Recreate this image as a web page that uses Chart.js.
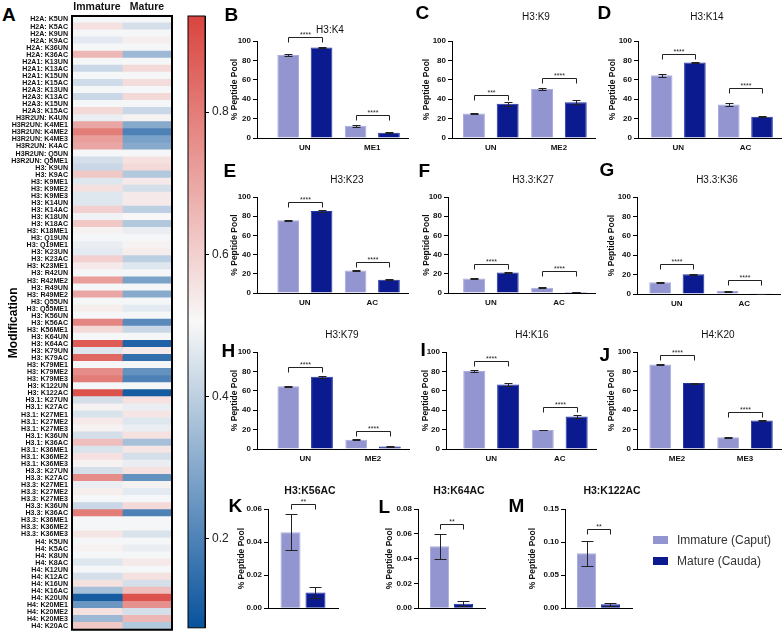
<!DOCTYPE html>
<html><head><meta charset="utf-8">
<script src="https://cdn.jsdelivr.net/npm/chart.js@4.4.0/dist/chart.umd.min.js"></script>
<style>
html,body{margin:0;padding:0;background:#fff;}
body{width:784px;height:638px;position:relative;overflow:hidden;font-family:"Liberation Sans",Arial,sans-serif;}
canvas{position:absolute;}
.letter{position:absolute;font-weight:bold;font-size:19px;line-height:1;color:#000;}
.ptitle{position:absolute;width:140px;text-align:center;font-size:10px;line-height:12px;color:#111;}
.ptitle.b{font-weight:bold;font-size:10.5px;}
.legtxt{position:absolute;font-size:12px;line-height:14px;color:#333;}
.sw{position:absolute;width:15px;height:8px;}
</style></head><body>
<script>
// ---------------- DATA ----------------
const heatRows = [
 'H2A: K5UN','H2A: K5AC','H2A: K9UN','H2A: K9AC','H2A: K36UN','H2A: K36AC',
 'H2A1: K13UN','H2A1: K13AC','H2A1: K15UN','H2A1: K15AC',
 'H2A3: K13UN','H2A3: K13AC','H2A3: K15UN','H2A3: K15AC',
 'H3R2UN: K4UN','H3R2UN: K4ME1','H3R2UN: K4ME2','H3R2UN: K4ME3','H3R2UN: K4AC','H3R2UN: Q5UN','H3R2UN: Q5ME1',
 'H3: K9UN','H3: K9AC','H3: K9ME1','H3: K9ME2','H3: K9ME3','H3: K14UN','H3: K14AC','H3: K18UN','H3: K18AC','H3: K18ME1',
 'H3: Q19UN','H3: Q19ME1','H3: K23UN','H3: K23AC','H3: K23ME1','H3: R42UN','H3: R42ME2','H3: R49UN','H3: R49ME2',
 'H3: Q55UN','H3: Q55ME1','H3: K56UN','H3: K56AC','H3: K56ME1','H3: K64UN','H3: K64AC','H3: K79UN','H3: K79AC',
 'H3: K79ME1','H3: K79ME2','H3: K79ME3','H3: K122UN','H3: K122AC',
 'H3.1: K27UN','H3.1: K27AC','H3.1: K27ME1','H3.1: K27ME2','H3.1: K27ME3','H3.1: K36UN','H3.1: K36AC','H3.1: K36ME1','H3.1: K36ME2','H3.1: K36ME3',
 'H3.3: K27UN','H3.3: K27AC','H3.3: K27ME1','H3.3: K27ME2','H3.3: K27ME3','H3.3: K36UN','H3.3: K36AC','H3.3: K36ME1','H3.3: K36ME2','H3.3: K36ME3',
 'H4: K5UN','H4: K5AC','H4: K8UN','H4: K8AC','H4: K12UN','H4: K12AC','H4: K16UN','H4: K16AC',
 'H4: K20UN','H4: K20ME1','H4: K20ME2','H4: K20ME3','H4: K20AC'
];
const heatColumns = ['Immature', 'Mature'];
const heatImmature = [
 0.50,0.56,0.50,0.47,0.50,0.66,0.50,0.42,0.50,0.43,
 0.50,0.42,0.50,0.58,0.48,0.70,0.80,0.72,0.70,0.50,
 0.44,0.42,0.62,0.46,0.56,0.46,0.46,0.60,0.49,0.62,
 0.52,0.50,0.48,0.47,0.60,0.54,0.50,0.72,0.50,0.70,
 0.50,0.53,0.50,0.78,0.58,0.50,0.88,0.46,0.85,0.50,
 0.76,0.80,0.50,0.90,0.44,0.52,0.45,0.54,0.52,0.44,
 0.64,0.45,0.56,0.52,0.44,0.76,0.48,0.53,0.50,0.42,
 0.80,0.50,0.50,0.55,0.50,0.52,0.50,0.46,0.50,0.44,
 0.56,0.36,0.10,0.25,0.56,0.34,0.62
];
const heatMature = [
 0.50,0.44,0.50,0.53,0.50,0.34,0.50,0.58,0.50,0.57,
 0.50,0.58,0.50,0.42,0.52,0.30,0.20,0.28,0.30,0.50,
 0.56,0.58,0.38,0.54,0.44,0.54,0.54,0.40,0.51,0.38,
 0.48,0.50,0.52,0.53,0.40,0.46,0.50,0.28,0.50,0.30,
 0.50,0.47,0.50,0.22,0.42,0.50,0.12,0.54,0.15,0.50,
 0.24,0.20,0.50,0.10,0.56,0.48,0.55,0.46,0.48,0.56,
 0.36,0.55,0.44,0.48,0.56,0.24,0.52,0.47,0.50,0.58,
 0.20,0.50,0.50,0.45,0.50,0.48,0.50,0.54,0.50,0.56,
 0.44,0.64,0.90,0.75,0.44,0.66,0.38
];
const colorbarRange = [0.075, 0.935];
const colorbarTicks = [0.2, 0.4, 0.6, 0.8];

const barGroups = ['Immature (Caput)', 'Mature (Cauda)'];

const catsB = ['UN', 'ME1'];
const immatureB = [85.6, 12.6]; const immatureErrB = [1.0, 1.0];
const matureB = [93.3, 5.5];    const matureErrB = [0.5, 0.5];
const sigB = ['****', '****'];  const sigLevelB = [104, 23.5];

const catsC = ['UN', 'ME2'];
const immatureC = [25.2, 50.4]; const immatureErrC = [0.8, 0.8];
const matureC = [35.3, 36.8];   const matureErrC = [1.8, 2.2];
const sigC = ['***', '****'];   const sigLevelC = [44.5, 61.6];

const catsD = ['UN', 'AC'];
const immatureD = [64.6, 34.5]; const immatureErrD = [1.5, 1.5];
const matureD = [77.8, 21.8];   const matureErrD = [0.5, 0.5];
const sigD = ['****', '****'];  const sigLevelD = [86.3, 51.4];

const catsE = ['UN', 'AC'];
const immatureE = [75.9, 23.4]; const immatureErrE = [0.5, 0.5];
const matureE = [85.5, 13.9];   const matureErrE = [0.8, 0.5];
const sigE = ['****', '****'];  const sigLevelE = [94.8, 32.7];

const catsF = ['UN', 'AC'];
const immatureF = [15.2, 5.4];  const immatureErrF = [0.6, 0.4];
const matureF = [21.3, 1.0];    const matureErrF = [0.8, 0.2];
const sigF = ['****', '****'];  const sigLevelF = [30, 23];

const catsG = ['UN', 'AC'];
const immatureG = [12.0, 3.0];  const immatureErrG = [0.5, 0.5];
const matureG = [20.3, 0.3];    const matureErrG = [0.8, 0.2];
const sigG = ['****', '****'];  const sigLevelG = [30.5, 14.4];

const catsH = ['UN', 'ME2'];
const immatureH = [64.6, 9.6];  const immatureErrH = [0.8, 0.8];
const matureH = [74.4, 2.6];    const matureErrH = [0.8, 0.3];
const sigH = ['****', '****'];  const sigLevelH = [85, 19];

const catsI = ['UN', 'AC'];
const immatureI = [80.4, 19.6]; const immatureErrI = [0.6, 0.5];
const matureI = [66.6, 33.4];   const matureErrI = [1.5, 1.2];
const sigI = ['****', '****'];  const sigLevelI = [91, 43.8];

const catsJ = ['ME2', 'ME3'];
const immatureJ = [87.0, 12.2]; const immatureErrJ = [0.4, 0.4];
const matureJ = [68.0, 29.3];   const matureErrJ = [0.5, 0.5];
const sigJ = ['****', '****'];  const sigLevelJ = [97, 38.6];

const catsK = ['AC'];
const immatureK = [0.046];  const immatureErrK = [0.011];
const matureK = [0.0095];   const matureErrK = [0.0035];
const sigK = ['**'];        const sigLevelK = [0.0629];

const catsL = ['AC'];
const immatureL = [0.050];  const immatureErrL = [0.010];
const matureL = [0.0035];   const matureErrL = [0.002];
const sigL = ['**'];        const sigLevelL = [0.0676];

const catsM = ['AC'];
const immatureM = [0.083];  const immatureErrM = [0.019];
const matureM = [0.006];    const matureErrM = [0.002];
const sigM = ['**'];        const sigLevelM = [0.12];

// ---------------- STYLE / LAYOUT ----------------
const IMM_COLOR = '#9295d0', IMM_BORDER = '#a9acdd';
const MAT_COLOR = '#0b1a8e', MAT_BORDER = '#2433a0';
const cmapStops = [[0.075, [8, 82, 156]], [0.505, [248, 248, 248]], [0.935, [218, 68, 62]]];

Chart.defaults.font.family = '"Liberation Sans", Arial, sans-serif';
Chart.defaults.animation = false;
Chart.defaults.events = [];
Chart.defaults.plugins.legend.display = false;
Chart.defaults.plugins.tooltip.enabled = false;

function cmapRGB(v) {
  if (v <= cmapStops[0][0]) return cmapStops[0][1];
  for (let i = 1; i < cmapStops.length; i++) {
    const [v1, c1] = cmapStops[i];
    const [v0, c0] = cmapStops[i - 1];
    if (v <= v1) {
      const t = (v - v0) / (v1 - v0);
      return c0.map((c, k) => Math.round(c + (c1[k] - c) * t));
    }
  }
  return cmapStops[cmapStops.length - 1][1];
}
const cmapCss = v => { const c = cmapRGB(v); return `rgb(${c[0]},${c[1]},${c[2]})`; };

function mk(left, top, w, h) {
  const c = document.createElement('canvas');
  c.width = w; c.height = h;
  c.style.left = left + 'px'; c.style.top = top + 'px';
  c.style.width = w + 'px'; c.style.height = h + 'px';
  document.body.appendChild(c);
  return c;
}
function addDiv(cls, text, left, top) {
  const d = document.createElement('div');
  d.className = cls; d.textContent = text;
  d.style.left = left + 'px'; d.style.top = top + 'px';
  document.body.appendChild(d);
  return d;
}

const frame = (lw) => ({
  id: 'frame',
  afterDraw(chart) {
    const a = chart.chartArea, ctx = chart.ctx;
    ctx.save(); ctx.strokeStyle = '#000'; ctx.lineWidth = lw;
    ctx.strokeRect(a.left, a.top, a.right - a.left, a.bottom - a.top);
    ctx.restore();
  }
});

// ---------------- HEATMAP (A) ----------------
addDiv('letter', 'A', 2, 4.5);
new Chart(mk(0, 0, 176, 638), {
  type: 'bar',
  data: {
    labels: heatRows,
    datasets: [
      { label: heatColumns[0], data: heatImmature.map(() => [0, 1]), backgroundColor: heatImmature.map(cmapCss) },
      { label: heatColumns[1], data: heatMature.map(() => [1, 2]), backgroundColor: heatMature.map(cmapCss) }
    ]
  },
  options: {
    responsive: false, devicePixelRatio: 1, indexAxis: 'y',
    layout: { padding: { top: 0, bottom: 5, right: 4, left: 0 } },
    datasets: { bar: { barPercentage: 1, categoryPercentage: 1, grouped: false, borderWidth: 0, inflateAmount: 0.6 } },
    scales: {
      y: {
        type: 'category',
        ticks: { autoSkip: false, font: { size: 7.1, weight: 'bold' }, color: '#111', padding: 4 },
        grid: { display: false, drawTicks: false }, border: { display: false },
        title: { display: true, text: 'Modification', font: { size: 12, weight: 'bold' }, color: '#000', padding: { top: 6, bottom: 0 } },
        afterFit: s => { s.width = 72; }
      },
      x: {
        type: 'linear', position: 'top', min: 0, max: 2,
        afterBuildTicks: s => { s.ticks = heatColumns.map((c, i) => ({ value: i + 0.5 })); },
        ticks: { font: { size: 10.5, weight: 'bold' }, color: '#111', padding: 3, callback: (v, i) => heatColumns[i] },
        grid: { display: false, drawTicks: false }, border: { display: false },
        afterFit: s => { s.height = 16; }
      }
    }
  },
  plugins: [frame(2)]
});

// ---------------- COLORBAR ----------------
new Chart(mk(183, 0, 57, 638), {
  type: 'bar',
  data: {
    labels: ['scale'],
    datasets: [{
      data: [colorbarRange], barPercentage: 1, categoryPercentage: 1, borderWidth: 0,
      backgroundColor: (ctx) => {
        const ch = ctx.chart; if (!ch.chartArea) return '#fff';
        const ys = ch.scales.y;
        const y0 = ys.getPixelForValue(colorbarRange[0]), y1 = ys.getPixelForValue(colorbarRange[1]);
        const g = ch.ctx.createLinearGradient(0, y0, 0, y1);
        cmapStops.forEach(([v]) => g.addColorStop((v - colorbarRange[0]) / (colorbarRange[1] - colorbarRange[0]), cmapCss(v)));
        return g;
      }
    }]
  },
  options: {
    responsive: false, devicePixelRatio: 1,
    layout: { padding: { left: 5, top: 16, bottom: 5, right: 0 } },
    scales: {
      x: { display: false },
      y: {
        position: 'right', min: colorbarRange[0], max: colorbarRange[1],
        afterBuildTicks: s => { s.ticks = colorbarTicks.map(v => ({ value: v })); },
        ticks: { font: { size: 12 }, color: '#222', padding: 3, callback: v => v.toFixed(1) },
        grid: { drawOnChartArea: false, tickLength: 4, color: '#000' },
        border: { display: true, color: '#000' },
        afterFit: s => { s.width = 35; }
      }
    }
  },
  plugins: [frame(1)]
});

// ---------------- BAR PANELS ----------------
const panels = [
  { letter: 'B', title: 'H3:K4', cats: catsB, imm: immatureB, immErr: immatureErrB, mat: matureB, matErr: matureErrB, sig: sigB, sigLevel: sigLevelB, yMax: 100, yStep: 20 },
  { letter: 'C', title: 'H3:K9', cats: catsC, imm: immatureC, immErr: immatureErrC, mat: matureC, matErr: matureErrC, sig: sigC, sigLevel: sigLevelC, yMax: 100, yStep: 20 },
  { letter: 'D', title: 'H3:K14', cats: catsD, imm: immatureD, immErr: immatureErrD, mat: matureD, matErr: matureErrD, sig: sigD, sigLevel: sigLevelD, yMax: 100, yStep: 20 },
  { letter: 'E', title: 'H3:K23', cats: catsE, imm: immatureE, immErr: immatureErrE, mat: matureE, matErr: matureErrE, sig: sigE, sigLevel: sigLevelE, yMax: 100, yStep: 20 },
  { letter: 'F', title: 'H3.3:K27', cats: catsF, imm: immatureF, immErr: immatureErrF, mat: matureF, matErr: matureErrF, sig: sigF, sigLevel: sigLevelF, yMax: 100, yStep: 20 },
  { letter: 'G', title: 'H3.3:K36', cats: catsG, imm: immatureG, immErr: immatureErrG, mat: matureG, matErr: matureErrG, sig: sigG, sigLevel: sigLevelG, yMax: 100, yStep: 20 },
  { letter: 'H', title: 'H3:K79', cats: catsH, imm: immatureH, immErr: immatureErrH, mat: matureH, matErr: matureErrH, sig: sigH, sigLevel: sigLevelH, yMax: 100, yStep: 20 },
  { letter: 'I', title: 'H4:K16', cats: catsI, imm: immatureI, immErr: immatureErrI, mat: matureI, matErr: matureErrI, sig: sigI, sigLevel: sigLevelI, yMax: 100, yStep: 20 },
  { letter: 'J', title: 'H4:K20', cats: catsJ, imm: immatureJ, immErr: immatureErrJ, mat: matureJ, matErr: matureErrJ, sig: sigJ, sigLevel: sigLevelJ, yMax: 100, yStep: 20 },
  { letter: 'K', title: 'H3:K56AC', cats: catsK, imm: immatureK, immErr: immatureErrK, mat: matureK, matErr: matureErrK, sig: sigK, sigLevel: sigLevelK, yMax: 0.06, yStep: 0.02 },
  { letter: 'L', title: 'H3:K64AC', cats: catsL, imm: immatureL, immErr: immatureErrL, mat: matureL, matErr: matureErrL, sig: sigL, sigLevel: sigLevelL, yMax: 0.08, yStep: 0.02 },
  { letter: 'M', title: 'H3:K122AC', cats: catsM, imm: immatureM, immErr: immatureErrM, mat: matureM, matErr: matureErrM, sig: sigM, sigLevel: sigLevelM, yMax: 0.15, yStep: 0.05 }
];
const layoutSpec = {
  B: { X0: 257, X1: 408, Y0: 41, Y1: 138, tx: 330, ty: 30, lead: 0.21, yOff: 22, lx: 226, ly: 7 },
  C: { X0: 452, X1: 595, Y0: 41, Y1: 138, tx: 536, ty: 17, lead: 0.07, yOff: 25, lx: 417, ly: 5 },
  D: { X0: 638, X1: 781, Y0: 41, Y1: 138, tx: 707, ty: 17, lead: 0.10, yOff: 25, lx: 599, ly: 5 },
  E: { X0: 257, X1: 408, Y0: 197, Y1: 293, tx: 347, ty: 180, lead: 0.21, yOff: 22, lx: 225, ly: 163 },
  F: { X0: 448, X1: 595, Y0: 197, Y1: 293, tx: 533, ty: 180, lead: 0.13, yOff: 21, lx: 420, ly: 163 },
  G: { X0: 637, X1: 780, Y0: 197, Y1: 294, tx: 717, ty: 180, lead: 0.09, yOff: 25, lx: 601, ly: 162 },
  H: { X0: 257, X1: 409, Y0: 352, Y1: 449, tx: 342, ty: 335, lead: 0.21, yOff: 22, lx: 223, ly: 343 },
  I: { X0: 446, X1: 596, Y0: 352, Y1: 449, tx: 532, ty: 335, lead: 0.16, yOff: 20, lx: 422, ly: 342 },
  J: { X0: 637, X1: 781, Y0: 352, Y1: 449, tx: 718, ty: 335, lead: 0.09, yOff: 25, lx: 601, ly: 347 },
  K: { X0: 268, X1: 338, Y0: 509, Y1: 612, tx: 310, ty: 490, yOff: 26, lx: 230, ly: 498 },
  L: { X0: 418, X1: 485, Y0: 509, Y1: 612, tx: 459, ty: 490, yOff: 28, lx: 380, ly: 499 },
  M: { X0: 565, X1: 632, Y0: 509, Y1: 612, tx: 612, ty: 490, yOff: 32, lx: 510, ly: 498 }
};

function makePanel(p) {
  const L = layoutSpec[p.letter];
  const small = p.cats.length === 1;
  const W = L.yOff + 6, padT = 20, padR = 6, padB = 2;
  const xH = small ? 1 : 16;
  const left = L.X0 - W, top = L.Y0 - padT;
  const width = W + (L.X1 - L.X0) + padR;
  const height = padT + (L.Y1 - L.Y0) + xH + padB;
  const dec = p.yStep < 1 ? 2 : 0;

  const errPlugin = {
    id: 'errbars',
    afterDatasetsDraw(chart) {
      const ctx = chart.ctx, ys = chart.scales.y;
      const errs = [p.immErr, p.matErr];
      const cap = small ? 12 : 8;
      ctx.save(); ctx.strokeStyle = '#222'; ctx.lineWidth = 1;
      chart.data.datasets.forEach((ds, di) => {
        chart.getDatasetMeta(di).data.forEach((bar, i) => {
          const v = ds.data[i], e = errs[di][i];
          const x = Math.round(bar.x) + 0.5;
          const yt = Math.round(ys.getPixelForValue(v + e)) + 0.5;
          const yb = Math.round(ys.getPixelForValue(Math.max(v - e, 0))) + 0.5;
          ctx.beginPath();
          ctx.moveTo(x, yt); ctx.lineTo(x, yb);
          ctx.moveTo(x - cap / 2, yt); ctx.lineTo(x + cap / 2, yt);
          ctx.moveTo(x - cap / 2, yb); ctx.lineTo(x + cap / 2, yb);
          ctx.stroke();
        });
      });
      ctx.restore();
    }
  };
  const sigPlugin = {
    id: 'sig',
    afterDatasetsDraw(chart) {
      const ctx = chart.ctx, ys = chart.scales.y;
      const m0 = chart.getDatasetMeta(0).data, m1 = chart.getDatasetMeta(1).data;
      ctx.save(); ctx.strokeStyle = '#222'; ctx.fillStyle = '#222'; ctx.lineWidth = 1;
      ctx.font = '7px "Liberation Sans", Arial, sans-serif';
      ctx.textAlign = 'center'; ctx.textBaseline = 'alphabetic';
      p.sig.forEach((s, i) => {
        const x1 = Math.round(m0[i].x) + 0.5, x2 = Math.round(m1[i].x) + 0.5;
        const y = Math.round(ys.getPixelForValue(p.sigLevel[i])) + 0.5;
        ctx.beginPath();
        ctx.moveTo(x1, y + 5); ctx.lineTo(x1, y); ctx.lineTo(x2, y); ctx.lineTo(x2, y + 5);
        ctx.stroke();
        ctx.fillText(s, (x1 + x2) / 2, y - 1);
      });
      ctx.restore();
    }
  };

  new Chart(mk(left, top, width, height), {
    type: 'bar',
    data: {
      labels: p.cats,
      datasets: [
        { label: barGroups[0], data: p.imm, backgroundColor: IMM_COLOR, borderColor: IMM_BORDER, borderWidth: 1 },
        { label: barGroups[1], data: p.mat, backgroundColor: MAT_COLOR, borderColor: MAT_BORDER, borderWidth: 1 }
      ]
    },
    options: {
      responsive: false, devicePixelRatio: 1,
      layout: { padding: { top: padT, right: padR, bottom: padB, left: 0 } },
      datasets: { bar: small ? { categoryPercentage: 0.714, barPercentage: 0.8 } : { categoryPercentage: 0.99, barPercentage: 0.65 } },
      scales: {
        x: {
          offset: true,
          grid: { display: false, drawTicks: false },
          border: { display: true, color: '#000', width: 1 },
          ticks: { display: !small, font: { size: 8, weight: 'bold' }, color: '#111', padding: 5, maxRotation: 0, autoSkip: false },
          afterBuildTicks: s => { if (!small) { s._startValue = -0.5 - L.lead; s._valueRange = s.ticks.length + L.lead + 0.03; } },
          afterFit: s => { s.height = xH; }
        },
        y: {
          min: 0, max: p.yMax,
          ticks: { stepSize: p.yStep, font: { size: 8, weight: 'bold' }, color: '#111', padding: 2, callback: v => Number(v).toFixed(dec) },
          grid: { drawOnChartArea: false, drawTicks: true, tickLength: 4, color: '#000' },
          border: { display: true, color: '#000', width: 1 },
          title: { display: true, text: '% Peptide Pool', font: { size: 8.5, weight: 'bold' }, color: '#111', padding: { top: 1, bottom: 0 } },
          afterFit: s => { s.width = W; }
        }
      }
    },
    plugins: [errPlugin, sigPlugin]
  });

  addDiv('letter', p.letter, L.lx - 1.5, L.ly - 2.5);
  addDiv('ptitle' + (small ? ' b' : ''), p.title, L.tx - 70, L.ty - 6);
}
panels.forEach(makePanel);

// ---------------- LEGEND ----------------
const sw1 = addDiv('sw', '', 653, 536); sw1.style.background = IMM_COLOR;
const sw2 = addDiv('sw', '', 653, 557); sw2.style.background = MAT_COLOR;
addDiv('legtxt', barGroups[0], 677, 533);
addDiv('legtxt', barGroups[1], 677, 554);
</script>
</body></html>
